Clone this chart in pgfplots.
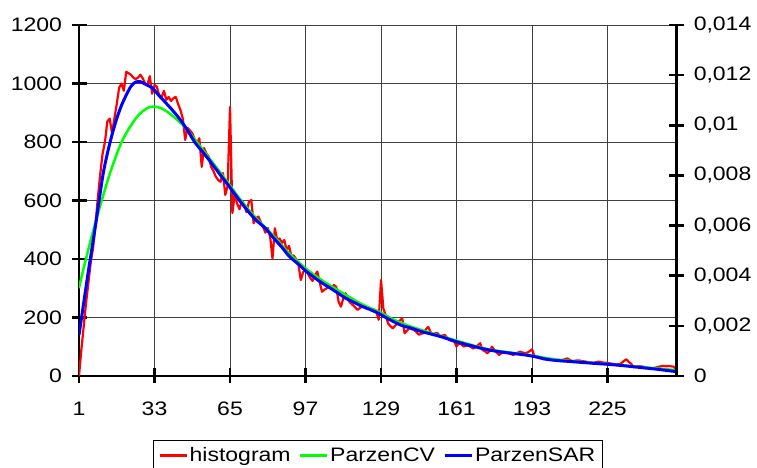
\documentclass[border=0pt]{standalone}
\usepackage{fontspec}
\setmainfont{Liberation Sans}[FakeStretch=1.18]
\usepackage{pgfplots}
\pgfplotsset{compat=1.18}
\newcommand{\lblfont}{\fontsize{19.5}{23}\selectfont}
\begin{document}
\begin{tikzpicture}
\begin{axis}[
  at={(79pt,92pt)}, anchor=south west,
  scale only axis, width=597.7pt, height=351pt,
  xmin=1, xmax=254.3, ymin=0, ymax=1200,
  axis x line*=bottom, axis y line*=left,
  axis line style={-, line width=2.5pt},
  xtick={1,33,65,97,129,161,193,225},
  xticklabels={1,33,65,97,129,161,193,225},
  ytick={0,200,400,600,800,1000,1200},
  yticklabels={0,200,400,600,800,1000,1200},
  tick align=center, major tick length=15pt,
  tick style={line width=2.5pt, black},
  grid=major, major grid style={line width=0.8pt, black!75},
  ticklabel style={font=\lblfont},
  yticklabel style={xshift=-6pt},
  xticklabel style={yshift=-15pt},
  legend columns=3,
  legend style={at={(0.5,-0.183)}, anchor=north, draw=black, line width=0.8pt,
    inner xsep=5pt, inner ysep=5pt,
    font=\lblfont, /tikz/every even column/.append style={column sep=6pt}},
  legend image code/.code={\draw[#1] (0pt,0pt) -- (27pt,0pt);},
]
\addplot[red, line width=2.2pt, line join=round] coordinates {
(1,0)(2,90)(3,170)(4,250)(5,320)(6,390)(7,440)(8,520)(9,610)(10,690)
(11,760)(12,800)(13,870)(14,880)(15,830)(16,880)(17,930)(18,985)(19,1000)(20,975)
(21,1040)(22,1035)(23,1030)(24,1020)(25,1015)(26,1020)(27,1030)(28,1018)(29,1000)(30,995)
(31,1025)(32,965)(33,995)(34,988)(35,960)(36,954)(37,975)(38,944)(39,954)(40,940)
(41,950)(42,954)(43,930)(44,909)(45,880)(46,807)(47,848)(48,840)(49,830)(50,810)
(51,796)(52,813)(53,715)(54,779)(55,760)(56,750)(57,715)(58,700)(59,681)(60,670)
(61,664)(62,694)(63,619)(64,650)(65,920)(66,557)(67,620)(68,590)(69,570)(70,600)
(71,585)(72,560)(73,595)(74,602)(75,522)(76,540)(77,545)(78,527)(79,510)(80,490)
(81,506)(82,476)(83,402)(84,505)(85,465)(86,470)(87,455)(88,465)(89,430)(90,445)
(91,410)(92,412)(93,400)(94,380)(95,328)(96,355)(97,365)(98,350)(99,335)(100,325)
(101,345)(102,357)(103,320)(104,288)(105,295)(106,300)(107,305)(108,300)(109,311)(110,305)
(111,254)(112,237)(113,265)(114,283)(115,260)(116,250)(117,243)(118,235)(119,226)(120,232)
(121,237)(122,240)(123,232)(124,230)(125,226)(126,222)(127,220)(128,192)(129,328)(130,230)
(131,207)(132,180)(133,170)(134,163)(135,172)(136,180)(137,190)(138,197)(139,146)(140,155)
(141,163)(142,160)(143,158)(144,150)(145,141)(146,145)(147,146)(148,160)(149,168)(150,150)
(151,140)(152,146)(153,146)(154,136)(155,138)(156,141)(157,130)(158,123)(159,120)(160,118)
(161,101)(162,112)(163,108)(164,101)(165,103)(166,104)(167,100)(168,94)(169,98)(170,105)
(171,112)(172,89)(173,85)(174,78)(175,85)(176,100)(177,90)(178,80)(179,72)(180,78)
(181,83)(182,80)(183,78)(184,75)(185,72)(186,76)(187,80)(188,83)(189,80)(190,78)
(191,80)(192,85)(193,91)(194,68)(195,65)(196,62)(197,60)(198,57)(199,57)(200,58)
(201,56)(202,55)(203,55)(204,52)(205,51)(206,55)(207,58)(208,60)(209,55)(210,51)
(211,52)(212,53)(213,53)(214,51)(215,50)(216,49)(217,47)(218,46)(219,45)(220,47)
(221,49)(222,48)(223,46)(224,45)(225,45)(226,43)(227,42)(228,41)(229,41)(230,40)
(231,45)(232,52)(233,57)(234,48)(235,42)(236,30)(237,32)(238,34)(239,33)(240,32)
(241,30)(242,28)(243,27)(244,25)(245,28)(246,30)(247,32)(248,34)(249,34)(250,33)
(251,34)(252,33)(253,32)(254,21)
};
\addlegendentry{histogram}
\addplot[color={rgb,255:red,0;green,255;blue,0}, line width=2.5pt, smooth, tension=0.5] coordinates {
(1,300)(3,370)(6,465)(9,555)(11,610)(14,690)(18,780)(21,830)(25,880)(28,905)(31,920)(33,921)
(36,915)(39,900)(42,880)(45,858)(48,830)(51,800)(55,757)(60,705)(64,662)(70,597)(76,540)
(83,483)(90,420)(97,368)(104,327)(111,292)(121,245)(128,220)(135,190)(142,168)(149,150)
(161,121)(174,92)(185,79)(193,70)(200,60)(210,51)(225,41)(239,31)(254,20)
};
\addlegendentry{ParzenCV}
\addplot[blue, line width=3pt, smooth, tension=0.5] coordinates {
(1,140)(3,250)(5,360)(8,515)(11,680)(13,760)(15,825)(17,880)(19,925)(21,960)(23,990)(25,1005)
(27,1006)(29,998)(32,985)(35,958)(38,932)(41,905)(44,875)(47,840)(50,800)(53,770)(56,740)
(60,697)(64,655)(67,622)(70,590)(73,560)(76,533)(80,505)(83,476)(87,440)(90,410)(94,382)
(97,360)(101,335)(104,318)(108,298)(111,282)(114,266)(118,250)(121,238)(125,225)(128,214)
(131,200)(135,183)(138,172)(142,163)(146,152)(149,146)(155,133)(161,117)(167,104)(174,90)
(180,82)(185,77)(190,72)(193,68)(197,61)(200,56)(205,52)(210,49)(218,44)(225,40)(232,35)
(239,29)(246,23)(254,15)
};
\addlegendentry{ParzenSAR}
\end{axis}
\begin{axis}[
  at={(79pt,92pt)}, anchor=south west,
  scale only axis, width=597.7pt, height=351pt,
  xmin=1, xmax=254.3, ymin=0, ymax=0.014,
  axis x line=none, axis y line*=right,
  axis line style={-, line width=2.5pt},
  scaled y ticks=false,
  ytick={0,0.002,0.004,0.006,0.008,0.01,0.012,0.014},
  yticklabels={0,{0,002},{0,004},{0,006},{0,008},{0,01},{0,012},{0,014}},
  tick align=center, major tick length=15pt,
  tick style={line width=2.5pt, black},
  ticklabel style={font=\lblfont},
  yticklabel style={xshift=6pt},
]
\end{axis}
\pgfresetboundingbox
\useasboundingbox (0pt,0pt) rectangle (757pt,468pt);
\end{tikzpicture}
\end{document}
